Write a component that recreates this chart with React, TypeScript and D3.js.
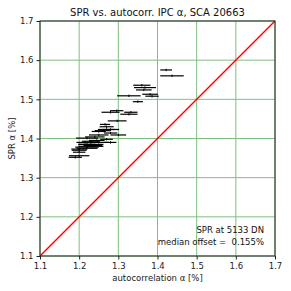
import React, { useEffect, useRef } from "react";
import * as d3 from "d3";

// autocorrelation alpha [%], its error, and SPR alpha [%]
const autoAlpha = [
  1.422, 1.437, 1.36, 1.368, 1.365, 1.381, 1.327, 1.386, 1.35,
  1.296, 1.28, 1.332, 1.327, 1.297, 1.266, 1.27, 1.27, 1.28, 1.25,
  1.28, 1.25, 1.3, 1.22, 1.27, 1.23, 1.28, 1.22, 1.22,
  1.2, 1.2, 1.25, 1.23, 1.23, 1.22, 1.2, 1.2, 1.19, 1.24, 1.26,
  1.215, 1.245, 1.235,
];
const autoErr = [
  0.015, 0.03, 0.022, 0.028, 0.02, 0.02, 0.03, 0.017, 0.013,
  0.017, 0.023, 0.017, 0.022, 0.024, 0.013, 0.018, 0.022, 0.022, 0.018,
  0.017, 0.025, 0.02, 0.028, 0.016, 0.023, 0.015, 0.022, 0.03,
  0.02, 0.016, 0.026, 0.032, 0.032, 0.027, 0.019, 0.026, 0.017, 0.025, 0.02,
  0.022, 0.02, 0.024,
];
const sprAlpha = [
  1.575, 1.56, 1.536, 1.53, 1.524, 1.513, 1.509, 1.508, 1.494,
  1.471, 1.467, 1.467, 1.462, 1.445, 1.436, 1.43, 1.423, 1.423, 1.418,
  1.414, 1.409, 1.409, 1.401, 1.398, 1.393, 1.39, 1.385, 1.378,
  1.373, 1.365, 1.39, 1.385, 1.38, 1.375, 1.37, 1.356, 1.352, 1.404, 1.42,
  1.39, 1.395, 1.382,
];
const ticks = [1.1, 1.2, 1.3, 1.4, 1.5, 1.6, 1.7];

const App = () => {
  const svgRef = useRef<SVGSVGElement>(null);

  useEffect(() => {
    const svg = d3.select(svgRef.current);
    svg.selectAll("*").remove();
    const margin = { top: 21, right: 16, bottom: 35, left: 40 };
    const width = 291;
    const height = 291;
    const w = width - margin.left - margin.right;
    const h = height - margin.top - margin.bottom;
    const font = "DejaVu Sans, sans-serif";

    const x = d3.scaleLinear().domain([1.1, 1.7]).range([0, w]);
    const y = d3.scaleLinear().domain([1.1, 1.7]).range([h, 0]);

    const g = svg
      .append("g")
      .attr("transform", `translate(${margin.left}, ${margin.top})`);

    // grid
    g.selectAll(".gx")
      .data(ticks)
      .enter()
      .append("line")
      .attr("x1", (d) => x(d))
      .attr("x2", (d) => x(d))
      .attr("y1", 0)
      .attr("y2", h)
      .attr("stroke", "#7fc07f")
      .attr("stroke-width", 1);
    g.selectAll(".gy")
      .data(ticks)
      .enter()
      .append("line")
      .attr("y1", (d) => y(d))
      .attr("y2", (d) => y(d))
      .attr("x1", 0)
      .attr("x2", w)
      .attr("stroke", "#7fc07f")
      .attr("stroke-width", 1);

    // 1:1 line
    g.append("line")
      .attr("x1", x(1.1))
      .attr("y1", y(1.1))
      .attr("x2", x(1.7))
      .attr("y2", y(1.7))
      .attr("stroke", "red")
      .attr("stroke-width", 1.5);

    // error bars
    const pts = autoAlpha.map((a, i) => ({ a, e: autoErr[i], s: sprAlpha[i] }));
    g.selectAll(".eb")
      .data(pts)
      .enter()
      .append("line")
      .attr("x1", (d) => x(d.a - d.e))
      .attr("x2", (d) => x(d.a + d.e))
      .attr("y1", (d) => y(d.s))
      .attr("y2", (d) => y(d.s))
      .attr("stroke", "black")
      .attr("stroke-width", 1.2);
    g.selectAll(".pt")
      .data(pts)
      .enter()
      .append("line")
      .attr("x1", (d) => x(d.a))
      .attr("x2", (d) => x(d.a))
      .attr("y1", (d) => y(d.s) - 1.2)
      .attr("y2", (d) => y(d.s) + 1.2)
      .attr("stroke", "black")
      .attr("stroke-width", 1);

    // axes
    const xAxis = g
      .append("g")
      .attr("transform", `translate(0, ${h})`)
      .call(d3.axisBottom(x).tickValues(ticks).tickSize(3.5).tickFormat(d3.format(".1f")));
    const yAxis = g
      .append("g")
      .call(d3.axisLeft(y).tickValues(ticks).tickSize(3.5).tickFormat(d3.format(".1f")));
    [xAxis, yAxis].forEach((ax) => {
      ax.select(".domain").remove();
      ax.selectAll("text").attr("font-family", font).attr("font-size", 8.5).attr("fill", "#222");
      ax.selectAll("line").attr("stroke", "#222");
    });

    g.append("rect")
      .attr("width", w)
      .attr("height", h)
      .attr("fill", "none")
      .attr("stroke", "#222")
      .attr("stroke-width", 1);

    // labels
    svg.append("text")
      .attr("x", margin.left + w / 2)
      .attr("y", 16)
      .attr("text-anchor", "middle")
      .attr("font-family", font)
      .attr("font-size", 10)
      .attr("fill", "#111")
      .text("SPR vs. autocorr. IPC α, SCA 20663");
    svg.append("text")
      .attr("x", margin.left + w / 2)
      .attr("y", height - 10)
      .attr("text-anchor", "middle")
      .attr("font-family", font)
      .attr("font-size", 8.5)
      .attr("fill", "#222")
      .text("autocorrelation α [%]");
    svg.append("text")
      .attr("transform", `translate(15, ${margin.top + h / 2}) rotate(-90)`)
      .attr("text-anchor", "middle")
      .attr("font-family", font)
      .attr("font-size", 8.5)
      .attr("fill", "#222")
      .text("SPR α [%]");

    g.append("text")
      .attr("x", w - 11)
      .attr("y", h - 23)
      .attr("text-anchor", "end")
      .attr("font-family", font)
      .attr("font-size", 8.5)
      .attr("fill", "#111")
      .text("SPR at 5133 DN");
    g.append("text")
      .attr("x", w - 11)
      .attr("y", h - 11)
      .attr("text-anchor", "end")
      .attr("font-family", font)
      .attr("font-size", 8.5)
      .attr("fill", "#111")
      .attr("xml:space", "preserve")
      .style("white-space", "pre")
      .text("median offset =  0.155%");
  }, []);

  return (
    <svg
      ref={svgRef}
      width={291}
      height={291}
      style={{ display: "block", position: "absolute", left: 0, top: 0 }}
    ></svg>
  );
};

export default App;
